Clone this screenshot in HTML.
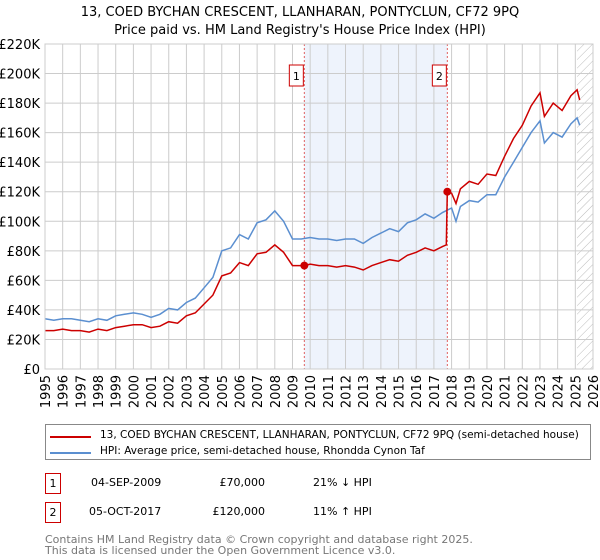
<!DOCTYPE html>
<html><head><meta charset="utf-8"><style>
body{margin:0;width:600px;height:560px;background:#fff;font-family:"DejaVu Sans","Liberation Sans",sans-serif;overflow:hidden;position:relative}
.t{position:absolute;white-space:nowrap}
</style></head><body>
<svg id="chart" width="600" height="420" style="position:absolute;left:0;top:0" font-family="DejaVu Sans, Liberation Sans, sans-serif">
<text x="300" y="16" text-anchor="middle" font-size="13">13, COED BYCHAN CRESCENT, LLANHARAN, PONTYCLUN, CF72 9PQ</text>
<text x="300" y="34" text-anchor="middle" font-size="13">Price paid vs. HM Land Registry's House Price Index (HPI)</text>
<g id="plot"></g>
</svg>
<div class="t" style="left:45px;top:424px;width:544px;height:34px;border:1px solid #888"></div>
<div style="position:absolute;left:50px;top:436px;width:41px;height:2px;background:#cc0000"></div>
<div class="t" style="left:100px;top:429px;font-size:10.5px">13, COED BYCHAN CRESCENT, LLANHARAN, PONTYCLUN, CF72 9PQ (semi-detached house)</div>
<div style="position:absolute;left:50px;top:452px;width:41px;height:2px;background:#5b8fd0"></div>
<div class="t" style="left:100px;top:445px;font-size:10.5px">HPI: Average price, semi-detached house, Rhondda Cynon Taf</div>

<div class="t" style="left:45px;top:473px;width:14px;height:19px;border:1px solid #cc0000;font-size:11px;text-align:center;line-height:19px">1</div>
<div class="t" style="left:91px;top:476px;font-size:11px">04-SEP-2009</div>
<div class="t" style="left:200px;top:476px;width:65px;text-align:right;font-size:11px">£70,000</div>
<div class="t" style="left:313px;top:476px;font-size:11px">21% ↓ HPI</div>
<div class="t" style="left:45px;top:502px;width:14px;height:19px;border:1px solid #cc0000;font-size:11px;text-align:center;line-height:19px">2</div>
<div class="t" style="left:89px;top:505px;font-size:11px">05-OCT-2017</div>
<div class="t" style="left:200px;top:505px;width:65px;text-align:right;font-size:11px">£120,000</div>
<div class="t" style="left:313px;top:505px;font-size:11px">11% ↑ HPI</div>
<div class="t" style="left:45px;top:534px;font-size:11px;color:#777;line-height:11px">Contains HM Land Registry data © Crown copyright and database right 2025.<br>This data is licensed under the Open Government Licence v3.0.</div>

<script>
const hpiYears=[1995,1995.5,1996,1996.5,1997,1997.5,1998,1998.5,1999,1999.5,2000,2000.5,2001,2001.5,2002,2002.5,2003,2003.5,2004,2004.5,2005,2005.5,2006,2006.5,2007,2007.5,2008,2008.5,2009,2009.5,2010,2010.5,2011,2011.5,2012,2012.5,2013,2013.5,2014,2014.5,2015,2015.5,2016,2016.5,2017,2017.5,2018,2018.25,2018.5,2019,2019.5,2020,2020.5,2021,2021.5,2022,2022.5,2023,2023.25,2023.75,2024.25,2024.75,2025.1,2025.25];
const hpiValues=[34,33,34,34,33,32,34,33,36,37,38,37,35,37,41,40,45,48,55,62,80,82,91,88,99,101,107,100,88,88,89,88,88,87,88,88,85,89,92,95,93,99,101,105,102,106,109,100,110,114,113,118,118,130,140,150,160,168,153,160,157,166,170,165];
const priceYears=[1995,1995.5,1996,1996.5,1997,1997.5,1998,1998.5,1999,1999.5,2000,2000.5,2001,2001.5,2002,2002.5,2003,2003.5,2004,2004.5,2005,2005.5,2006,2006.5,2007,2007.5,2008,2008.5,2009,2009.67,2010,2010.5,2011,2011.5,2012,2012.5,2013,2013.5,2014,2014.5,2015,2015.5,2016,2016.5,2017,2017.5,2017.7,2017.76,2018,2018.25,2018.5,2019,2019.5,2020,2020.5,2021,2021.5,2022,2022.5,2023,2023.25,2023.75,2024.25,2024.75,2025.1,2025.25];
const priceValues=[26,26,27,26,26,25,27,26,28,29,30,30,28,29,32,31,36,38,44,50,63,65,72,70,78,79,84,79,70,70,71,70,70,69,70,69,67,70,72,74,73,77,79,82,80,83,84,120,119,112,122,127,125,132,131,144,156,165,178,187,171,180,175,185,189,182];
const sales=[{year:2009.67,value:70,label:"1"},{year:2017.76,value:120,label:"2"}];
const yTicks=[0,20,40,60,80,100,120,140,160,180,200,220];
const xTicks=[1995,1996,1997,1998,1999,2000,2001,2002,2003,2004,2005,2006,2007,2008,2009,2010,2011,2012,2013,2014,2015,2016,2017,2018,2019,2020,2021,2022,2023,2024,2025,2026];
const X0=45,X1=593,Y0=369,Y1=44;
const x=v=>X0+(v-1995)/(2026-1995)*(X1-X0);
const y=v=>Y0-v/220*(Y0-Y1);
const NS="http://www.w3.org/2000/svg";
const g=document.getElementById('plot');
function mk(t,a){const e=document.createElementNS(NS,t);for(const k in a)e.setAttribute(k,a[k]);g.appendChild(e);return e;}
let e;
e=mk('rect',{x:x(2009.67),y:Y1,width:x(2017.76)-x(2009.67),height:Y0-Y1,fill:'#eef3fc'});


const defs=document.createElementNS(NS,'defs');defs.innerHTML='<pattern id="h" width="6" height="6" patternUnits="userSpaceOnUse" patternTransform="rotate(45)"><line x1="0" y1="0" x2="0" y2="6" stroke="#bbb" stroke-width="1"/></pattern>';g.appendChild(defs);
e=mk('rect',{x:x(2025.1),y:Y1,width:X1-x(2025.1),height:Y0-Y1,fill:'url(#h)'});


yTicks.forEach(t=>{
 e=mk('line',{x1:X0,x2:X1,y1:y(t),y2:y(t),stroke:'#ccc'});
 
 
 e=mk('text',{x:X0-5,y:y(t)+5,'text-anchor':'end','font-size':'13'});e.textContent=t===0?'£0':'£'+t+'K';
 
 
});
xTicks.forEach(t=>{
 e=mk('line',{x1:x(t),x2:x(t),y1:Y1,y2:Y0,stroke:'#ccc'});
 
 
 e=mk('text',{x:0,y:0,'font-size':'13','text-anchor':'end',transform:`translate(${x(t)+5},${Y0+6}) rotate(-90)`});e.textContent=t;
 
 
});
sales.forEach(s=>{
 e=mk('line',{x1:x(s.year),x2:x(s.year),y1:Y1,y2:Y0,stroke:'#e06060','stroke-dasharray':'2,2'});
 
 
});
const pts=(xs,vs)=>xs.map((v,i)=>x(v).toFixed(1)+','+y(vs[i]).toFixed(1)).join(' ');
e=mk('polyline',{points:pts(hpiYears,hpiValues),fill:'none',stroke:'#5b8fd0','stroke-width':1.5});


e=mk('polyline',{points:pts(priceYears,priceValues),fill:'none',stroke:'#cc0000','stroke-width':1.5});


sales.forEach(s=>{
 e=mk('circle',{cx:x(s.year),cy:y(s.value),r:4,fill:'#cc0000'});
 
 
 e=mk('rect',{x:x(s.year)-15,y:65,width:14,height:21,fill:'#fff',stroke:'#cc0000'});
 
 
 e=mk('text',{x:x(s.year)-8,y:80,'text-anchor':'middle','font-size':'11'});e.textContent=s.label;
 
 
});
e=mk('rect',{x:X0,y:Y1,width:X1-X0,height:Y0-Y1,fill:'none',stroke:'#ccc'});


</script>
</body></html>
